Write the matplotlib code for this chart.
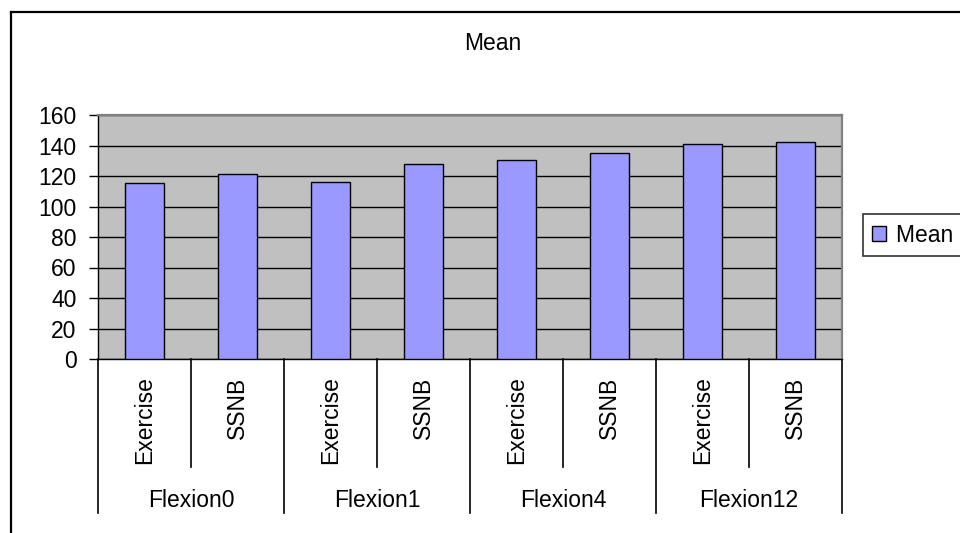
import matplotlib

matplotlib.use("Agg")
import matplotlib.pyplot as plt
from matplotlib.lines import Line2D
from matplotlib.transforms import blended_transform_factory

plt.rcParams["font.family"] = ["Liberation Sans", "DejaVu Sans"]

GROUPS = ["Flexion0", "Flexion1", "Flexion4", "Flexion12"]
TREATMENTS = ["Exercise", "SSNB"]
MEAN = [115.2, 121.1, 116.3, 128.1, 130.7, 135.3, 141.1, 142.4]

BAR_COLOR = "#9999FF"
PLOT_BG = "#C0C0C0"
FS = 16.5

fig = plt.figure(figsize=(9.6, 5.33), dpi=100)
ax = fig.add_axes([98 / 960, 1 - 359 / 533, 744 / 960, 244 / 533])
ax.set_facecolor(PLOT_BG)

xs = list(range(len(MEAN)))
# trailing spaces pad the legend box so it runs off the right edge
ax.bar(xs, MEAN, width=0.415, color=BAR_COLOR, edgecolor="black",
       linewidth=1.0, zorder=3, label="Mean  ")

ax.set_xlim(-0.5, len(MEAN) - 0.5)
ax.set_ylim(0, 160)
ax.set_yticks(range(0, 161, 20))
ax.set_xticks([])
ax.yaxis.grid(True, color="black", linewidth=1.0, zorder=1)
ax.set_axisbelow(True)
ax.tick_params(axis="y", direction="out", length=6.5, width=1.0,
               pad=9, labelsize=FS, colors="black")

for side in ("left", "bottom"):
    ax.spines[side].set_color("black")
    ax.spines[side].set_linewidth(1.0)
for side in ("top", "right"):
    ax.spines[side].set_color("#808080")
    ax.spines[side].set_linewidth(1.6)

# two-level category axis below the plot area
trans = blended_transform_factory(ax.transData, ax.transAxes)
n_sub = len(TREATMENTS)
for k in range(len(MEAN) + 1):
    x = k - 0.5
    y_end = -0.631 if k % n_sub == 0 else -0.4426
    ax.add_line(Line2D([x, x], [0, y_end], transform=trans, color="black",
                       linewidth=1.2, clip_on=False))

for i, x in enumerate(xs):
    ax.text(x, -0.072, TREATMENTS[i % n_sub], transform=trans, rotation=90,
            ha="center", va="top", fontsize=FS)

for g, name in enumerate(GROUPS):
    ax.text(g * n_sub + (n_sub - 1) / 2, -0.578, name, transform=trans,
            ha="center", va="center", fontsize=FS)

fig.text(493 / 960, 1 - 43 / 533, "Mean", ha="center", va="center", fontsize=FS)

leg = ax.legend(loc="center left", bbox_to_anchor=(863 / 960, 1 - 235 / 533),
                bbox_transform=fig.transFigure, fontsize=FS, frameon=True,
                fancybox=False, shadow=False, borderpad=0.4, borderaxespad=0,
                handlelength=0.6, handleheight=0.6, handletextpad=0.45)
leg.get_frame().set_edgecolor("black")
leg.get_frame().set_linewidth(1.2)

# chart frame (only its left and top edges fall inside the image)
fig.add_artist(Line2D([11 / 960, 11 / 960], [0, 1 - 12 / 533],
                      transform=fig.transFigure, color="black", linewidth=1.6))
fig.add_artist(Line2D([11 / 960, 1], [1 - 12 / 533, 1 - 12 / 533],
                      transform=fig.transFigure, color="black", linewidth=1.6))

fig.savefig("out.png", dpi=100)
